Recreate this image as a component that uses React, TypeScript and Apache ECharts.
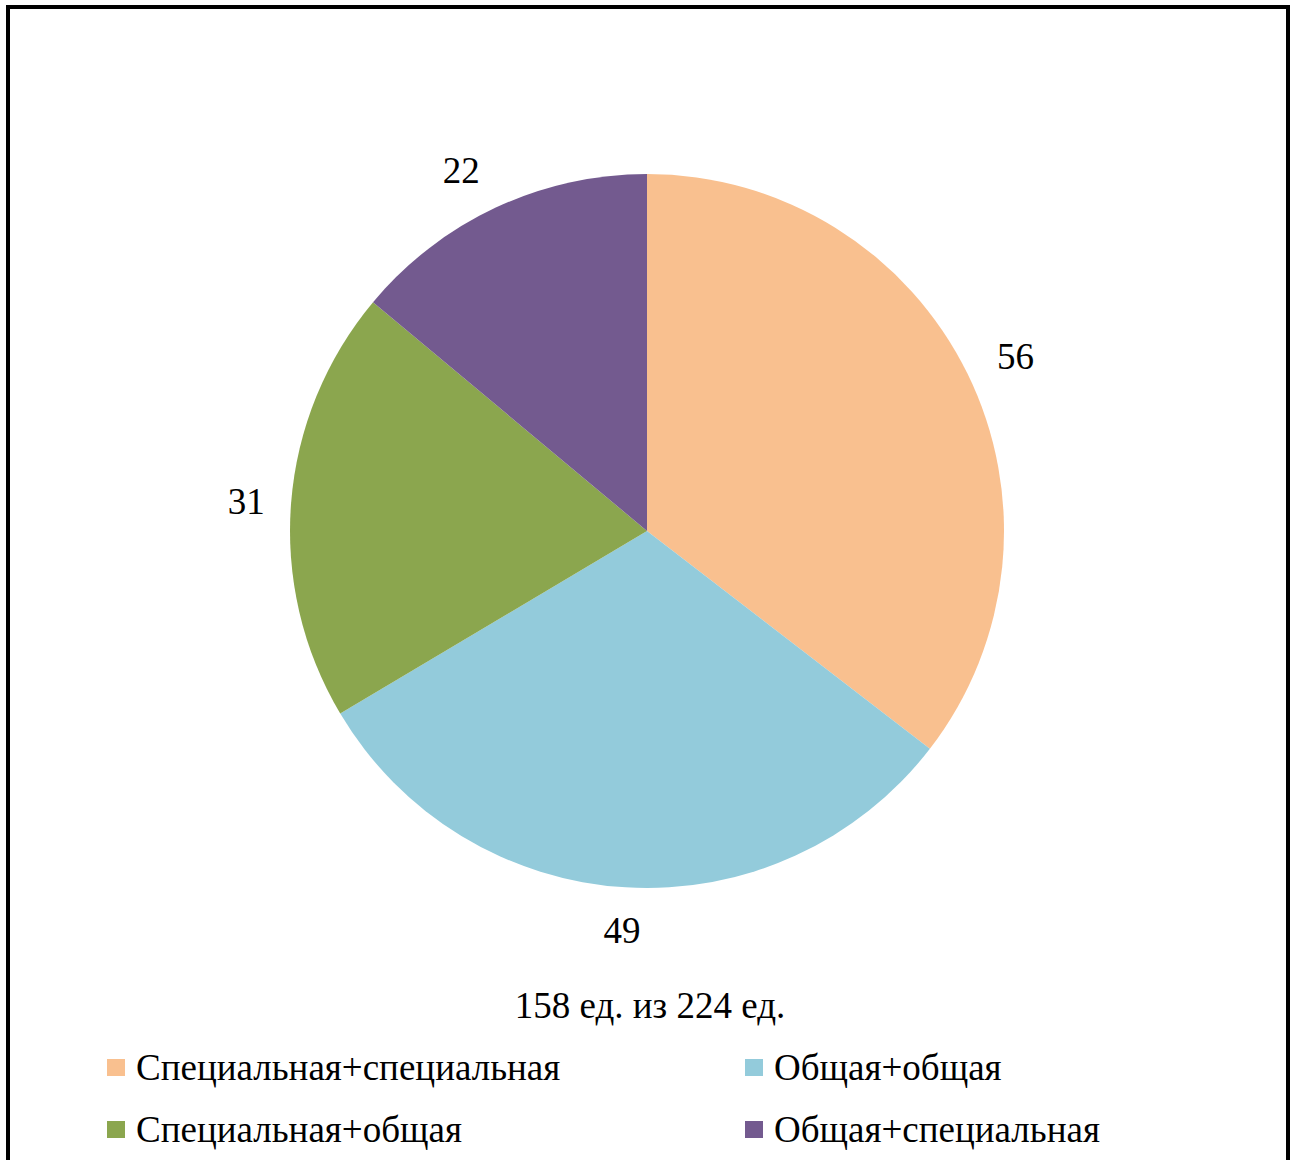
import React, { useEffect, useRef } from "react";
import * as echarts from "echarts";

const categories = [
  "Специальная+специальная",
  "Общая+общая",
  "Специальная+общая",
  "Общая+специальная",
];
const values = [56, 49, 31, 22];
const colors = ["#F9C08F", "#93CBDB", "#8BA64E", "#735A8F"];
const labelOffsets = [
  [7, 3],
  [-1, -3],
  [1, 3],
  [-15, 5],
];
const subtitle = "158 ед. из 224 ед.";
const FONT = '"Liberation Serif", "Times New Roman", serif';
const FS = 37;

export default function App() {
  const ref = useRef<HTMLDivElement>(null);
  useEffect(() => {
    if (!ref.current) return;
    const chart = echarts.init(ref.current, null, { renderer: "svg" });
    const data = categories.map((name, i) => ({
      name,
      value: values[i],
      itemStyle: { color: colors[i] },
    }));
    const labelData = categories.map((name, i) => ({
      name,
      value: values[i],
      label: { offset: labelOffsets[i] },
    }));
    const legendBase = {
      orient: "vertical",
      top: 1049,
      padding: 0,
      itemWidth: 18,
      itemHeight: 17,
      itemGap: 25,
      icon: "rect",
      textStyle: { fontFamily: FONT, fontSize: FS, color: "#000", padding: [0, 0, 0, 6] },
      selectedMode: false,
    };
    chart.setOption({
      animation: false,
      backgroundColor: "#ffffff",
      legend: [
        { ...legendBase, left: 107, data: [categories[0], categories[2]] },
        { ...legendBase, left: 745, data: [categories[1], categories[3]] },
      ],
      graphic: [
        {
          type: "rect",
          shape: { x: 8, y: 7, width: 1280, height: 1250 },
          style: { fill: "none", stroke: "#000", lineWidth: 4 },
          silent: true,
        },
        {
          type: "text",
          x: 650,
          y: 1005,
          style: {
            text: subtitle,
            font: `${FS}px ${FONT}`,
            fill: "#000",
            align: "center",
            verticalAlign: "middle",
          },
          silent: true,
        },
      ],
      series: [
        {
          type: "pie",
          center: [647, 531],
          radius: [0, 357],
          startAngle: 90,
          clockwise: true,
          silent: true,
          label: { show: false },
          labelLine: { show: false },
          itemStyle: { borderWidth: 0 },
          data,
        },
        {
          type: "pie",
          center: [647, 531],
          radius: [395, 405],
          startAngle: 90,
          clockwise: true,
          silent: true,
          itemStyle: { color: "rgba(0,0,0,0)", borderWidth: 0 },
          label: {
            show: true,
            position: "inside",
            formatter: "{c}",
            fontFamily: FONT,
            fontSize: FS,
            color: "#000",
          },
          labelLine: { show: false },
          data: labelData,
        },
      ],
    });
    return () => chart.dispose();
  }, []);
  return (
    <div
      ref={ref}
      style={{ position: "absolute", left: 0, top: 0, width: 1294, height: 1160 }}
    />
  );
}
